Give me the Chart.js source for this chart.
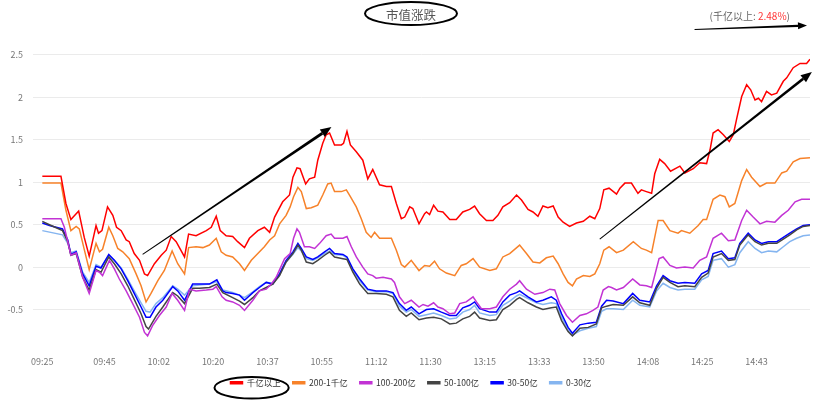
<!DOCTYPE html>
<html><head><meta charset="utf-8">
<script src="https://cdn.jsdelivr.net/npm/chart.js@4/dist/chart.umd.min.js"></script>
<style>html,body{margin:0;padding:0;background:#fff}canvas{display:block}</style>
</head><body>
<canvas id="c" width="818" height="403"></canvas>
<script>
const titleText = '市值涨跌';
const noteLabel = '(千亿以上: ';
const noteValue = '2.48%';
const seriesNames = ['千亿以上', '200-1千亿', '100-200亿', '50-100亿', '30-50亿', '0-30亿'];
const seriesColors = ['#ff0000', '#f7822a', '#c233d4', '#444444', '#0000ff', '#85b5f0'];
const timeLabels = ['09:25','09:45','10:02','10:20','10:37','10:55','11:12','11:30','13:15','13:33','13:50','14:08','14:25','14:43'];
const tickIdx = [0,20,37.5,55,72.5,90,107.5,125,142.5,160,177.5,195,212.5,230];
const yTicks = [-0.5,0,0.5,1,1.5,2,2.5];

// [minute index, % change]
const s1000 = [[0,1.07],[6,1.07],[7.6,0.75],[9.2,0.56],[10.9,0.63],[11.7,0.66],[13.5,0.35],[15.1,0.13],[17.3,0.49],[18.1,0.40],[19.2,0.43],[21,0.71],[22.7,0.61],[23.9,0.47],[25.4,0.43],[27,0.32],[28,0.30],[29.6,0.16],[31.3,0.08],[32.9,-0.08],[33.9,-0.10],[36.1,0.04],[38.3,0.14],[39.9,0.20],[41.5,0.36],[43.1,0.30],[45.8,0.12],[47.1,0.39],[49.5,0.37],[52.8,0.43],[54.4,0.47],[56,0.60],[57.3,0.43],[59.2,0.37],[61.3,0.36],[62.9,0.30],[65.1,0.23],[66.7,0.34],[69.4,0.43],[71.5,0.47],[73.2,0.41],[74.8,0.59],[77.4,0.77],[79.6,0.85],[80.7,1.06],[82,1.17],[83,1.16],[84.8,0.98],[86,1.04],[87.7,1.06],[88.7,1.26],[90.3,1.46],[91.4,1.56],[92.5,1.58],[94.1,1.44],[96.3,1.44],[97,1.46],[98.1,1.60],[99.2,1.44],[101.1,1.36],[103.2,1.26],[104.8,1.04],[106.4,1.15],[108.6,0.97],[110.8,0.95],[112.4,0.95],[114,0.75],[115.6,0.57],[116.7,0.59],[118.3,0.71],[119.3,0.69],[121.3,0.51],[123.1,0.63],[123.7,0.65],[124.7,0.62],[126,0.73],[127.4,0.66],[129,0.65],[131.2,0.56],[133.3,0.56],[135.4,0.65],[137.6,0.68],[139.2,0.72],[140.8,0.63],[143,0.55],[145.1,0.55],[146.7,0.61],[148.3,0.71],[150.5,0.76],[152.7,0.85],[154.3,0.79],[156.4,0.68],[158,0.65],[159.6,0.60],[161.2,0.72],[162.8,0.70],[164.5,0.72],[166.1,0.59],[167.7,0.53],[169.8,0.48],[172,0.52],[174.2,0.54],[176.3,0.60],[177.9,0.57],[179.5,0.69],[180.8,0.91],[182.5,0.93],[184.9,0.86],[186,0.93],[187.6,0.99],[189.7,0.99],[191.8,0.87],[192.9,0.91],[194.5,0.89],[196.2,0.87],[197.2,1.10],[198.8,1.27],[200.4,1.22],[202.3,1.13],[205.3,1.19],[206.9,1.11],[209.6,1.16],[211.7,1.23],[213.9,1.22],[215,1.38],[216,1.58],[217.6,1.62],[219.3,1.56],[221.2,1.48],[222.5,1.56],[223.6,1.75],[225.2,2.01],[226.8,2.15],[228.1,2.09],[229.5,1.97],[230.6,1.99],[231.6,1.95],[233.2,2.07],[234.8,2.03],[236.5,2.05],[238.6,2.19],[239.7,2.23],[241.8,2.35],[244,2.40],[246.1,2.40],[247.2,2.45]];
const s200 = [[0,0.99],[6,0.99],[7.6,0.67],[9.2,0.43],[10.9,0.48],[11.9,0.45],[13.5,0.21],[15.1,-0.03],[17.3,0.28],[18.4,0.18],[19.4,0.21],[21.4,0.47],[22.7,0.37],[24.3,0.22],[25.9,0.18],[28,0.10],[30.2,-0.08],[31.8,-0.22],[33.4,-0.41],[35,-0.31],[37.2,-0.16],[39.3,-0.04],[41.8,0.19],[43.6,0.04],[45.8,-0.08],[47.1,0.23],[49.5,0.24],[51.7,0.23],[53.8,0.26],[56,0.34],[57.6,0.18],[59.2,0.14],[61.3,0.12],[63.5,0.04],[65.1,-0.04],[67.3,0.08],[69.4,0.16],[71.5,0.24],[73.2,0.32],[74.8,0.37],[76.4,0.51],[78.5,0.61],[79.8,0.71],[80.9,0.83],[82.3,0.94],[83.4,0.89],[85,0.69],[86.6,0.70],[88.7,0.73],[90.3,0.85],[91.9,0.98],[93,0.99],[94.1,0.89],[96.3,0.89],[97.9,0.91],[99.2,0.83],[101.1,0.71],[102.7,0.57],[104.3,0.41],[105.9,0.35],[107,0.41],[108.6,0.34],[112.4,0.34],[114,0.20],[115.6,0.03],[116.7,0.0],[118.8,0.08],[121.3,-0.04],[123.1,0.02],[124.7,0.01],[126.3,0.07],[127.9,-0.02],[130.1,-0.07],[132.8,-0.10],[134.9,0.02],[136.5,0.04],[138.7,0.10],[140.8,0.0],[144.1,-0.04],[146.2,-0.02],[148.3,0.12],[150.5,0.16],[153.7,0.26],[155.9,0.16],[158,0.06],[160.2,0.05],[162.3,0.11],[164.5,0.13],[166.1,0.04],[167.7,-0.08],[169.3,-0.18],[170.7,-0.22],[172,-0.14],[174.2,-0.10],[176.3,-0.11],[177.9,-0.08],[179.5,0.04],[180.8,0.20],[182.5,0.24],[184.9,0.17],[187.1,0.20],[190.3,0.30],[192.9,0.22],[194.5,0.20],[196.2,0.17],[198.3,0.55],[199.9,0.55],[202.1,0.43],[204.7,0.40],[205.8,0.43],[208.5,0.40],[211.2,0.49],[212.8,0.56],[213.9,0.56],[216,0.80],[218.2,0.85],[219.8,0.83],[221.2,0.71],[223,0.75],[225.2,1.02],[226.8,1.15],[228.4,1.06],[231.1,0.95],[233.2,0.99],[235.9,0.99],[238.1,1.11],[239.7,1.13],[241.8,1.24],[244,1.28],[247.2,1.29]];
const s100 = [[0,0.57],[6,0.57],[7.1,0.47],[9.2,0.14],[10.9,0.17],[13,-0.12],[15.1,-0.31],[17.3,-0.04],[18.4,-0.06],[19.4,-0.10],[21.6,0.08],[23.2,-0.02],[24.8,-0.14],[27,-0.28],[29.1,-0.43],[31.3,-0.59],[32.9,-0.77],[33.9,-0.81],[35.5,-0.69],[37.7,-0.57],[39.9,-0.47],[41.8,-0.31],[43.6,-0.39],[45.8,-0.51],[47.4,-0.26],[49.5,-0.28],[52.8,-0.27],[54.9,-0.26],[56,-0.23],[57.9,-0.35],[59.2,-0.39],[61.3,-0.41],[63.5,-0.45],[65.1,-0.51],[67.8,-0.39],[69.9,-0.28],[72.1,-0.26],[73.7,-0.20],[75.3,-0.12],[78,0.10],[79.8,0.16],[80.9,0.34],[82,0.45],[82.8,0.41],[84.4,0.24],[86,0.24],[87.7,0.22],[89.3,0.28],[91.4,0.37],[93,0.39],[94.1,0.34],[96.8,0.34],[98.1,0.36],[99.5,0.24],[101.1,0.12],[103.2,0.0],[104.8,-0.08],[106.4,-0.10],[107.5,-0.13],[109.7,-0.12],[112.4,-0.14],[113.4,-0.18],[115,-0.35],[116.7,-0.43],[118.8,-0.39],[121.3,-0.47],[122.6,-0.44],[124.2,-0.46],[126,-0.42],[127.4,-0.47],[129,-0.49],[131.2,-0.55],[132.8,-0.54],[134.4,-0.43],[136.5,-0.41],[138.7,-0.35],[139.8,-0.41],[141.4,-0.49],[144.1,-0.49],[146.2,-0.47],[148.3,-0.35],[150.5,-0.26],[152.7,-0.20],[153.7,-0.16],[155.9,-0.26],[158.6,-0.32],[161.2,-0.30],[163.4,-0.26],[165,-0.27],[166.6,-0.43],[168.8,-0.57],[170.7,-0.65],[173.1,-0.57],[175.2,-0.55],[177.3,-0.51],[178.9,-0.47],[180.6,-0.27],[182.3,-0.23],[183.3,-0.24],[184.9,-0.27],[187.1,-0.24],[190.1,-0.14],[192.4,-0.21],[194.5,-0.22],[196.2,-0.24],[198.6,0.10],[199.9,0.12],[202.1,0.02],[204.2,-0.01],[206.9,0.0],[209.6,-0.01],[211.7,0.08],[213.9,0.12],[216,0.34],[218.7,0.40],[220.9,0.31],[223,0.32],[225.2,0.55],[226.8,0.67],[228.9,0.59],[231.1,0.51],[233.2,0.54],[235.9,0.53],[238.1,0.61],[240.2,0.67],[242.4,0.77],[244.5,0.80],[247.2,0.80]];
const s50 = [[0,0.54],[2.3,0.50],[6.5,0.43],[8.2,0.30],[9.2,0.14],[10.9,0.16],[13,-0.12],[15.1,-0.27],[17.3,-0.03],[18.9,-0.06],[21.4,0.12],[23.2,0.04],[25.4,-0.08],[27.5,-0.22],[29.6,-0.38],[31.8,-0.55],[33.4,-0.70],[34.2,-0.73],[36.6,-0.58],[38.8,-0.47],[42,-0.30],[43.6,-0.34],[45.8,-0.43],[48.4,-0.25],[50.6,-0.25],[53.8,-0.24],[56.2,-0.20],[58.1,-0.30],[61.3,-0.36],[63.5,-0.40],[65.1,-0.44],[67.8,-0.36],[69.9,-0.28],[72.1,-0.24],[74.2,-0.20],[76.4,-0.10],[78.5,0.06],[80.7,0.16],[82.3,0.26],[83.4,0.20],[85,0.06],[87.1,0.04],[88.7,0.08],[90.9,0.14],[92.5,0.18],[94.1,0.12],[96.8,0.10],[98.1,0.09],[100,-0.06],[102.2,-0.20],[104.8,-0.31],[107.5,-0.31],[110.8,-0.32],[112.9,-0.35],[115,-0.51],[117.2,-0.58],[118.8,-0.54],[121.3,-0.62],[123.7,-0.60],[126,-0.59],[128.5,-0.61],[131.2,-0.67],[133.3,-0.66],[135.4,-0.61],[137.6,-0.58],[139.2,-0.53],[140.8,-0.60],[144.1,-0.63],[146.2,-0.62],[148.3,-0.50],[150.5,-0.45],[152.7,-0.38],[153.7,-0.36],[156.4,-0.42],[159.1,-0.47],[161.2,-0.50],[163.9,-0.48],[165.5,-0.47],[167.2,-0.63],[169.3,-0.76],[170.7,-0.81],[173.1,-0.72],[175.8,-0.71],[178.4,-0.67],[180.1,-0.48],[181.7,-0.46],[183.8,-0.44],[187.1,-0.45],[190.1,-0.35],[192.4,-0.42],[195.6,-0.45],[197.8,-0.25],[199.9,-0.12],[202.1,-0.18],[204.7,-0.23],[206.9,-0.22],[210.1,-0.23],[212.3,-0.12],[214.4,-0.07],[216,0.12],[218.7,0.16],[220.9,0.08],[223,0.09],[224.6,0.26],[227.3,0.38],[229.5,0.30],[231.6,0.26],[233.8,0.28],[236.5,0.28],[238.6,0.33],[240.7,0.38],[242.9,0.44],[245,0.48],[247.2,0.49]];
const s30 = [[0,0.52],[2.3,0.49],[6.5,0.45],[8.2,0.32],[9.2,0.15],[10.9,0.18],[13,-0.08],[15.1,-0.22],[17.3,0.01],[18.9,-0.01],[21.4,0.15],[23.2,0.08],[25.4,-0.02],[27.5,-0.16],[29.6,-0.31],[31.8,-0.47],[33.4,-0.59],[34.7,-0.59],[36.6,-0.47],[38.8,-0.39],[42,-0.23],[43.6,-0.28],[45.8,-0.39],[48.4,-0.20],[50.6,-0.20],[53.8,-0.20],[56.2,-0.15],[58.1,-0.28],[59.2,-0.30],[61.3,-0.31],[63.5,-0.33],[65.1,-0.39],[67.8,-0.30],[69.9,-0.24],[72.1,-0.18],[74.2,-0.20],[76.4,-0.08],[78.5,0.08],[80.7,0.18],[82.3,0.28],[83.4,0.22],[85,0.12],[87.1,0.09],[88.7,0.12],[90.9,0.18],[92.5,0.22],[94.1,0.16],[96.8,0.15],[98.1,0.12],[100,-0.02],[102.2,-0.14],[104.8,-0.26],[107.5,-0.28],[110.8,-0.28],[112.9,-0.30],[115,-0.43],[117.2,-0.51],[118.8,-0.47],[121.3,-0.55],[123.7,-0.50],[126,-0.49],[128.5,-0.53],[131.2,-0.57],[133.3,-0.57],[135.4,-0.48],[137.6,-0.45],[139.2,-0.41],[140.8,-0.49],[144.1,-0.53],[146.2,-0.53],[148.3,-0.41],[150.5,-0.33],[152.7,-0.30],[153.7,-0.28],[156.4,-0.35],[159.1,-0.41],[161.2,-0.39],[163.9,-0.35],[165.5,-0.39],[167.2,-0.55],[169.3,-0.71],[170.7,-0.78],[173.1,-0.68],[175.8,-0.66],[178.4,-0.65],[180.1,-0.46],[181.7,-0.39],[183.8,-0.40],[187.1,-0.43],[190.1,-0.31],[192.4,-0.39],[195.6,-0.41],[197.8,-0.22],[199.9,-0.10],[202.1,-0.16],[204.7,-0.19],[206.9,-0.18],[210.1,-0.19],[212.3,-0.08],[214.4,-0.04],[216,0.16],[218.7,0.19],[220.9,0.10],[223,0.11],[224.6,0.28],[227.3,0.40],[229.5,0.32],[231.6,0.28],[233.8,0.30],[236.5,0.30],[238.6,0.35],[240.7,0.40],[242.9,0.45],[245,0.49],[247.2,0.50]];
const s0 = [[0,0.43],[6.5,0.38],[8.2,0.28],[9.2,0.17],[10.9,0.19],[13,-0.06],[15.1,-0.18],[17.3,0.03],[18.9,0.0],[21.4,0.14],[23.2,0.08],[25.4,-0.01],[27.5,-0.14],[29.6,-0.28],[31.8,-0.42],[33.4,-0.52],[34.7,-0.53],[36.6,-0.43],[38.8,-0.36],[42,-0.22],[43.6,-0.26],[45.8,-0.33],[48.4,-0.22],[50.6,-0.21],[53.8,-0.20],[56.2,-0.17],[58.1,-0.27],[61.3,-0.30],[63.5,-0.33],[65.1,-0.36],[67.8,-0.29],[69.9,-0.23],[72.1,-0.18],[74.2,-0.19],[76.4,-0.08],[78.5,0.06],[80.7,0.15],[82.3,0.23],[83.4,0.19],[85,0.10],[87.1,0.08],[88.7,0.11],[90.9,0.16],[92.5,0.19],[94.1,0.15],[96.8,0.14],[98.1,0.11],[100,-0.04],[102.2,-0.16],[104.8,-0.27],[107.5,-0.29],[110.8,-0.29],[112.9,-0.31],[115,-0.46],[117.2,-0.53],[118.8,-0.50],[121.3,-0.58],[123.7,-0.56],[126,-0.54],[128.5,-0.57],[131.2,-0.61],[133.3,-0.60],[135.4,-0.53],[137.6,-0.50],[139.2,-0.45],[140.8,-0.54],[144.1,-0.57],[146.2,-0.56],[148.3,-0.45],[150.5,-0.40],[152.7,-0.34],[153.7,-0.32],[156.4,-0.37],[159.1,-0.42],[161.2,-0.44],[163.9,-0.42],[165.5,-0.43],[167.2,-0.59],[169.3,-0.74],[170.7,-0.80],[173.1,-0.75],[175.8,-0.72],[178.4,-0.70],[180.1,-0.52],[181.7,-0.49],[183.8,-0.49],[187.1,-0.50],[190.1,-0.39],[192.4,-0.45],[195.6,-0.47],[197.8,-0.28],[199.9,-0.19],[202.1,-0.24],[204.7,-0.27],[206.9,-0.26],[210.1,-0.26],[212.3,-0.15],[214.4,-0.11],[216,0.08],[218.7,0.10],[220.9,0.0],[223,0.03],[224.6,0.17],[227.3,0.30],[229.5,0.22],[231.6,0.17],[233.8,0.19],[236.5,0.18],[238.6,0.24],[240.7,0.30],[242.9,0.34],[245,0.37],[247.2,0.38]];
const seriesData = [s1000, s200, s100, s50, s30, s0];

// hand-drawn trend arrows, in data units [minute index, value]
const trendArrows = [[[32.3, 0.15], [93.1, 1.65]], [[179.5, 0.33], [247.8, 2.30]]];

const FONT = '"Noto Sans CJK SC","Noto Sans",sans-serif';
Chart.defaults.font.family = FONT;

function arrow(ctx, x1, y1, x2, y2, w1, w2, hl, hw) {
  const dx = x2 - x1, dy = y2 - y1, L = Math.hypot(dx, dy);
  const ux = dx / L, uy = dy / L, nx = -uy, ny = ux;
  const bx = x2 - ux * hl, by = y2 - uy * hl;
  ctx.beginPath();
  ctx.moveTo(x1 + nx * w1 / 2, y1 + ny * w1 / 2);
  ctx.lineTo(bx + nx * w2 / 2, by + ny * w2 / 2);
  ctx.lineTo(bx - nx * w2 / 2, by - ny * w2 / 2);
  ctx.lineTo(x1 - nx * w1 / 2, y1 - ny * w1 / 2);
  ctx.closePath(); ctx.fill();
  ctx.beginPath();
  ctx.moveTo(x2, y2);
  ctx.lineTo(bx + nx * hw / 2, by + ny * hw / 2);
  ctx.lineTo(bx - nx * hw / 2, by - ny * hw / 2);
  ctx.closePath(); ctx.fill();
}
function ellipse(ctx, cx, cy, rx, ry) {
  ctx.beginPath();
  ctx.ellipse(cx, cy, rx, ry, 0, 0, Math.PI * 2);
  ctx.stroke();
}

const decor = {
  id: 'decor',
  afterLayout(chart) {
    const y = chart.scales.y;
    y.left = 0;
    y.width = y.right;
  },
  afterDraw(chart) {
    const ctx = chart.ctx, xs = chart.scales.x, ys = chart.scales.y, ca = chart.chartArea;
    ctx.save();
    ctx.fillStyle = '#000'; ctx.strokeStyle = '#000';
    const tb = chart.titleBlock;
    ctx.font = '12.5px ' + FONT;
    const tw = ctx.measureText(titleText).width;
    const tcx = (tb.left + tb.right) / 2;
    const tcy = tb.top + 8 + 7.5;
    ctx.lineWidth = 2;
    ellipse(ctx, tcx, tcy - 2, tw / 2 + 21, 11.5);
    ctx.font = '10px ' + FONT;
    ctx.textBaseline = 'middle';
    const w1 = ctx.measureText(noteLabel).width, w2 = ctx.measureText(noteValue).width, w3 = ctx.measureText(')').width;
    const endX = ca.right - 20;
    const startX = endX - w1 - w2 - w3;
    ctx.fillStyle = '#666'; ctx.fillText(noteLabel, startX, tcy + 1);
    ctx.fillStyle = '#ff3333'; ctx.fillText(noteValue, startX + w1, tcy + 1);
    ctx.fillStyle = '#666'; ctx.fillText(')', startX + w1 + w2, tcy + 1);
    ctx.fillStyle = '#000';
    arrow(ctx, startX - 15, tcy + 14, ca.right - 3, tcy + 10, 1, 2.2, 9, 7);
    trendArrows.forEach(a => {
      arrow(ctx, xs.getPixelForValue(a[0][0]), ys.getPixelForValue(a[0][1]),
                 xs.getPixelForValue(a[1][0]), ys.getPixelForValue(a[1][1]), 1, 2.8, 11, 9);
    });
    const hb = chart.legend.legendHitBoxes[0];
    if (hb) {
      ctx.lineWidth = 2;
      ellipse(ctx, hb.left + hb.width / 2 - 4, hb.top + hb.height / 2 + 5, hb.width / 2 + 12, 10.8);
    }
    ctx.restore();
  }
};

new Chart(document.getElementById('c'), {
  type: 'line',
  data: {
    datasets: seriesNames.map((n, i) => ({
      label: n,
      data: seriesData[i],
      borderColor: seriesColors[i],
      backgroundColor: seriesColors[i],
      borderWidth: 1.5,
      pointRadius: 0,
      tension: 0,
      fill: false
    }))
  },
  options: {
    responsive: false,
    animation: false,
    devicePixelRatio: 1,
    layout: { padding: { left: 12, right: 8, top: 0, bottom: 6 } },
    plugins: {
      title: { display: true, text: titleText, color: '#555', font: { size: 12.5, weight: 'normal' }, padding: { top: 8, bottom: 23.5 } },
      legend: { position: 'bottom', labels: { boxWidth: 12, boxHeight: 2, color: '#333', font: { size: 8.5 }, padding: 12 } },
      tooltip: { enabled: false }
    },
    scales: {
      x: {
        type: 'linear', min: -3, max: 247.2,
        grid: { display: false, drawTicks: false }, border: { display: false },
        afterBuildTicks: s => { s.ticks = tickIdx.map(v => ({ value: v })); },
        afterFit: s => { s.height = 23; },
        ticks: { autoSkip: false, maxRotation: 0, padding: 13, color: '#777', font: { size: 9 },
          callback: (v, i) => timeLabels[i] }
      },
      y: {
        min: -0.9, max: 2.6,
        border: { display: false },
        grid: { color: '#ebebeb', drawTicks: false },
        afterBuildTicks: s => { s.ticks = yTicks.map(v => ({ value: v })); },
        afterFit: s => { s.width = 21; },
        ticks: { padding: 10, color: '#777', font: { size: 9 }, callback: v => String(v) }
      }
    }
  },
  plugins: [decor]
});
</script>
</body></html>
